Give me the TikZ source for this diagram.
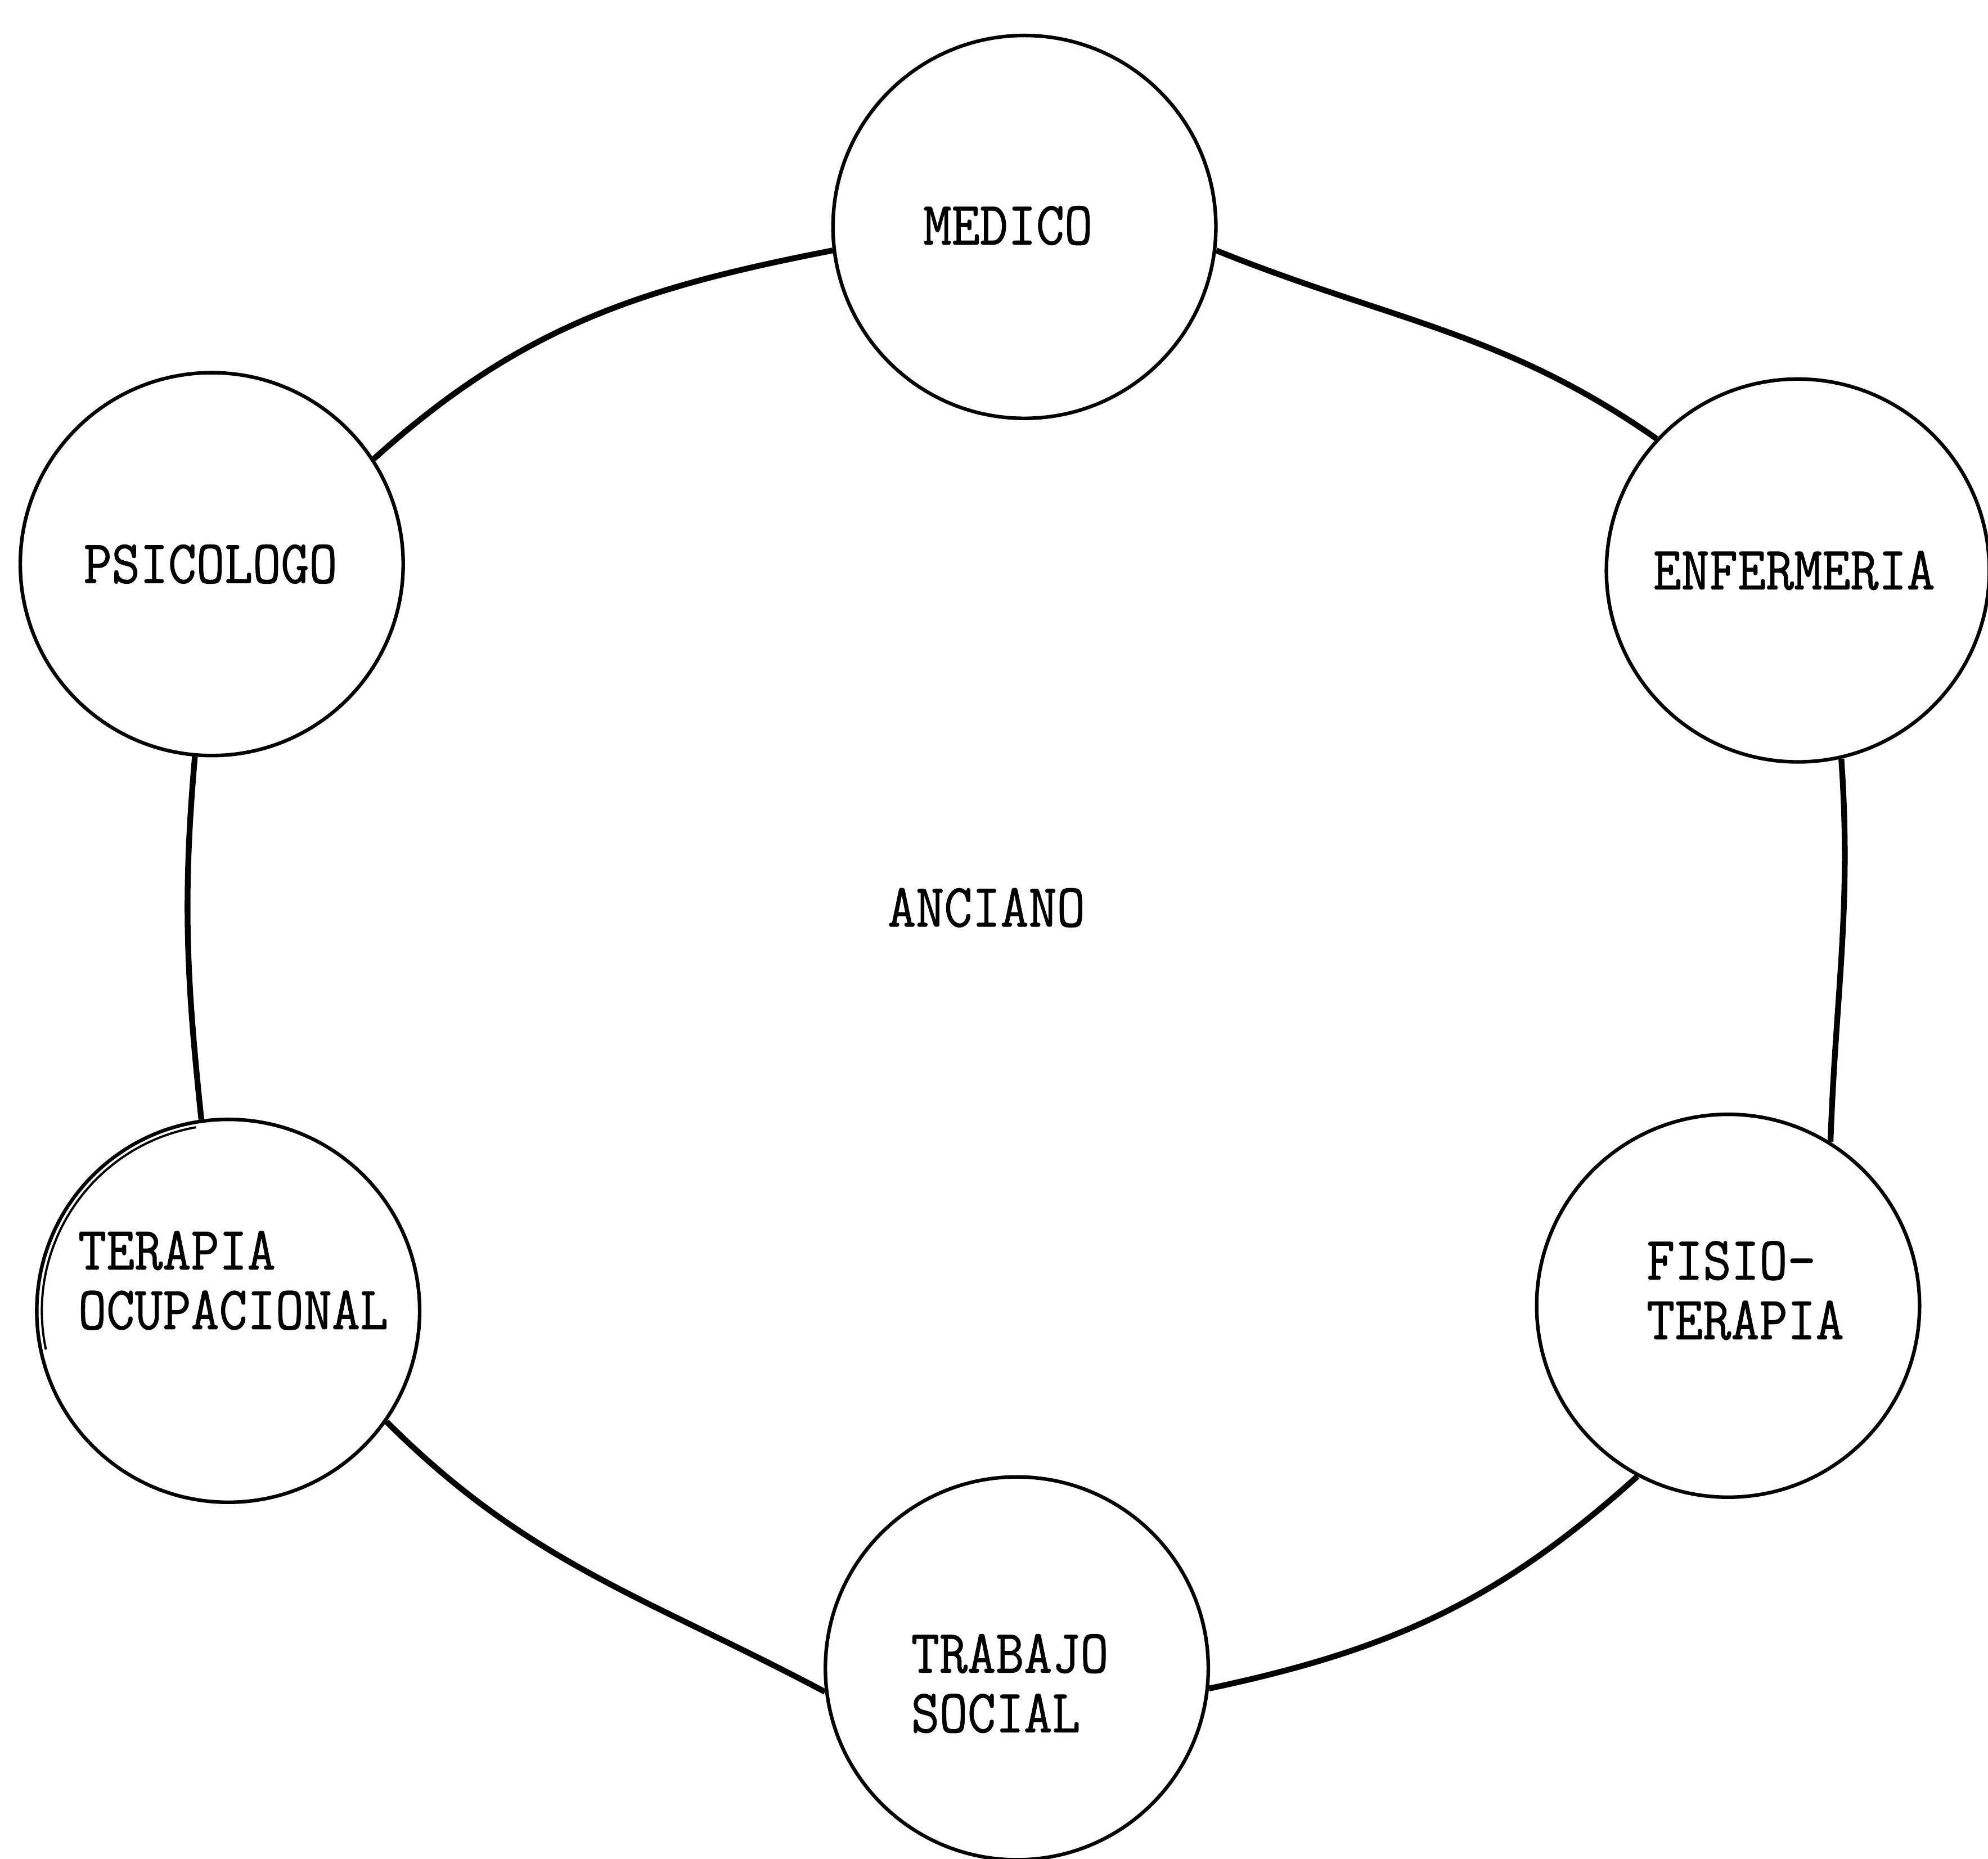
\documentclass[tikz,border=0pt]{standalone}
\usepackage{fontspec}
\newfontfamily\maquina[FakeStretch=0.89,FakeBold=0.9]{Latin Modern Mono}
\usetikzlibrary{calc}

\tikzset{
  rol/.style={circle, draw, line width=0.8pt, minimum size=3.02cm, inner sep=0pt},
  txt/.style={font=\maquina\fontsize{13.8}{13.4}\selectfont, inner sep=0pt, align=left},
  lazo/.style={line width=1.3pt}
}

\begin{document}
\begin{tikzpicture}
  \useasboundingbox (0,0) rectangle (15.68,14.66);

  \node[rol] (med) at (8.08,12.87) {};
  \node[rol] (enf) at (14.18,10.16) {};
  \node[rol] (fis) at (13.63,4.36) {};
  \node[rol] (tra) at (8.02,1.50) {};
  \node[rol] (ter) at (1.80,4.32) {};
  \node[rol] (psi) at (1.67,10.21) {};
  % trazo doble del circulo de terapia
  \draw[line width=0.5pt] ($(ter)+(100:1.47)$) arc (100:192:1.47);

  \node[txt] (med-t) at (7.95,12.88) {MEDICO};
  \node[txt] (enf-t) at (14.15,10.16) {ENFERMERIA};
  \node[txt] (psi-t) at (1.66,10.21) {PSICOLOGO};
  \node[txt, anchor=west] (fis-t) at (12.98,4.48) {FISIO-\\TERAPIA};
  \node[txt, anchor=west] (ter-t) at (0.61,4.56) {TERAPIA\\OCUPACIONAL};
  \node[txt, anchor=west] (tra-t) at (7.18,1.38) {TRABAJO\\SOCIAL};
  \node[txt] (anc) at (7.78,7.50) {ANCIANO};

  \draw[lazo] (med.187) to[out=191,in=42] (psi.33);
  \draw[lazo] (med.353) to[out=-22,in=145] (enf.137);
  \draw[lazo] (enf.283) to[out=-86,in=88] (fis.58);
  \draw[lazo] (fis.242) to[out=222,in=12] (tra.354);
  \draw[lazo] (tra.187) to[out=152,in=-45] (ter.325);
  \draw[lazo] (ter.98) to[out=96,in=-95] (psi.265);
\end{tikzpicture}
\end{document}
